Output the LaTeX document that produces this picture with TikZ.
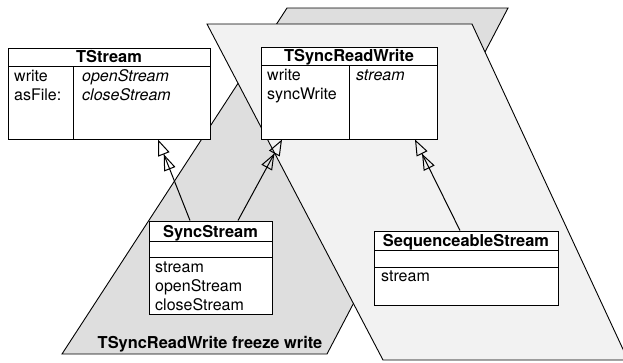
\documentclass[tikz,border=0pt]{standalone}
\usepackage{fontspec}
\setmainfont{TeX Gyre Heros}
\usetikzlibrary{arrows.meta}
\tikzset{
	classbox/.style={draw, fill=white, line width=1pt, inner sep=0pt},
	member/.style={anchor=base west, inner sep=0pt},
	classname/.style={anchor=base, inner sep=0pt, font=\fontsize{16.4}{19}\selectfont\bfseries},
	superclass/.tip={Triangle[open, length=16pt, width=12pt]},
	inherits/.style={line width=1pt, -{superclass[] superclass[]}},
}
\definecolor{darkgroup}{gray}{0.87}
\definecolor{lightgroup}{gray}{0.95}

\begin{document}
\begin{tikzpicture}[x=1pt, y=-1pt, font=\fontsize{16}{19}\selectfont]
	\clip (0,0) rectangle (623,362);
	% the two groups
	\draw[fill=darkgroup, line width=0.9pt] (287,8) -- (508,8) -- (327,354) -- (62,354) -- cycle;
	\draw[fill=lightgroup, line width=0.9pt] (207,24) -- (472,24) -- (628,360) -- (383,360) -- cycle;
	\node[classname] (freeze) at (210,348) {TSyncReadWrite freeze write};
	% TStream
	\node[classbox, minimum width=202pt, minimum height=91pt] (tstream) at (109,93.5) {};
	\draw[line width=1pt] (8,66) -- (210,66);
	\draw[line width=1pt] (73,66) -- (73,139);
	\node[classname] (tstream-name) at (109,62) {TStream};
	\node[member] (tstream-m1) at (14,81) {write};
	\node[member] (tstream-m2) at (14,100) {asFile:};
	\node[member] (tstream-m3) at (82,81) {\itshape openStream};
	\node[member] (tstream-m4) at (82,100) {\itshape closeStream};
	% TSyncReadWrite
	\node[classbox, minimum width=176pt, minimum height=92pt] (tsync) at (349,93) {};
	\draw[line width=1pt] (261,65) -- (437,65);
	\draw[line width=1pt] (349,65) -- (349,139);
	\node[classname] (tsync-name) at (349,61) {TSyncReadWrite};
	\node[member] (tsync-m1) at (267,80) {write};
	\node[member] (tsync-m2) at (267,99) {syncWrite};
	\node[member] (tsync-m3) at (356,80) {\itshape stream};
	% SyncStream
	\node[classbox, minimum width=123pt, minimum height=93pt] (syncstream) at (210.5,267.5) {};
	\draw[line width=1pt] (149,241) -- (272,241);
	\draw[line width=1pt] (149,257) -- (272,257);
	\node[classname] (syncstream-name) at (210.5,237) {SyncStream};
	\node[member] (syncstream-m1) at (155,272) {stream};
	\node[member] (syncstream-m2) at (155,291) {openStream};
	\node[member] (syncstream-m3) at (155,310) {closeStream};
	% SequenceableStream
	\node[classbox, minimum width=184pt, minimum height=74pt] (seqstream) at (466,268) {};
	\draw[line width=1pt] (374,250) -- (558,250);
	\draw[line width=1pt] (374,267) -- (558,267);
	\node[classname] (seqstream-name) at (466,246) {SequenceableStream};
	\node[member] (seqstream-m1) at (381,281) {stream};
	% inheritance
	\draw[inherits] ([xshift=-20.5pt]syncstream.north) -- ([xshift=49pt]tstream.south);
	\draw[inherits] ([xshift=27.5pt]syncstream.north) -- ([xshift=-67pt]tsync.south);
	\draw[inherits] ([xshift=-6pt]seqstream.north) -- ([xshift=66pt]tsync.south);
\end{tikzpicture}
\end{document}
